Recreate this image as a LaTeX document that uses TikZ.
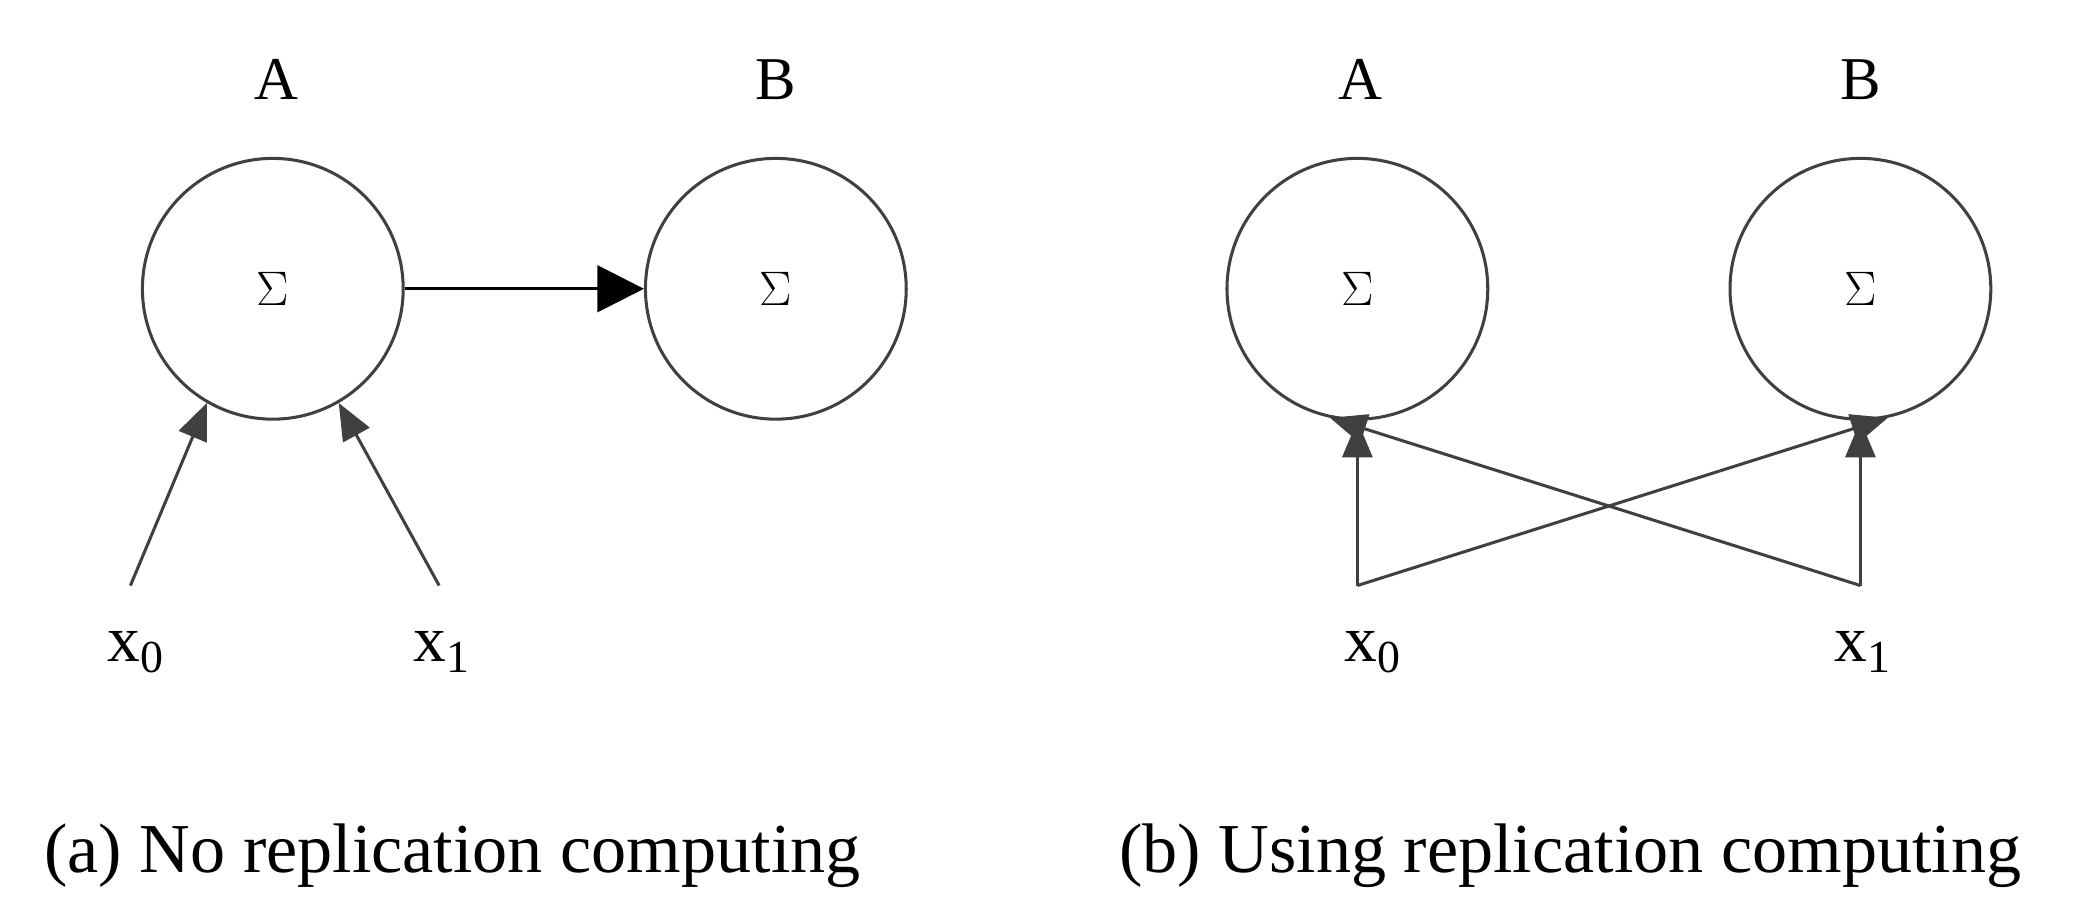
\documentclass[tikz,border=0pt]{standalone}
\usepackage{fontspec}
\setmainfont{Liberation Serif}
\usetikzlibrary{arrows.meta}
\definecolor{dg}{HTML}{404040}
\begin{document}
\begin{tikzpicture}[x={(0.02cm,0)},y={(0,-0.02cm)},
  neuron/.style={circle,draw=dg,line width=1.3pt,minimum size=3.92cm,inner sep=0pt,font=\fontsize{20}{24}\selectfont},
  lab/.style={font=\fontsize{26}{30}\selectfont},
  inp/.style={font=\fontsize{28}{32}\selectfont},
  captxt/.style={font=\fontsize{30}{36}\selectfont},
  con/.style={draw=dg,line width=1.3pt,-{Triangle[length=0.55cm,width=0.45cm,fill=dg]}}]
\useasboundingbox (0,0) rectangle (1560,693);
% (a)
\node[neuron] (a1) at (205,217) {$\Sigma$};
\node[neuron] (b1) at (583,217) {$\Sigma$};
\node[lab] (la1) at (208,60) {A};
\node[lab] (lb1) at (583,60) {B};
\node[inp] (x01) at (102,490) {x\textsubscript{0}};
\node[inp] (x11) at (332,490) {x\textsubscript{1}};
\coordinate (s01) at (98,440);
\coordinate (s11) at (330,440);
\draw[con] (s01) -- (a1.240);
\draw[con] (s11) -- (a1.300);
\draw[line width=1.3pt,-{Triangle[length=0.7cm,width=0.7cm]}] (a1) -- (b1);
\node[captxt] (ca) at (340,643) {(a) No replication computing};
% (b)
\node[neuron] (a2) at (1020,217) {$\Sigma$};
\node[neuron] (b2) at (1398,217) {$\Sigma$};
\node[lab] (la2) at (1022,60) {A};
\node[lab] (lb2) at (1398,60) {B};
\node[inp] (x02) at (1032,490) {x\textsubscript{0}};
\node[inp] (x12) at (1400,490) {x\textsubscript{1}};
\coordinate (s02) at (1020,440);
\coordinate (s12) at (1398,440);
\draw[con] (s02) -- (a2.south);
\draw[con] (s12) -- (b2.south);
\draw[con] (s02) -- (b2.282);
\draw[con] (s12) -- (a2.258);
\node[captxt] (cb) at (1180,643) {(b) Using replication computing};
\end{tikzpicture}
\end{document}
